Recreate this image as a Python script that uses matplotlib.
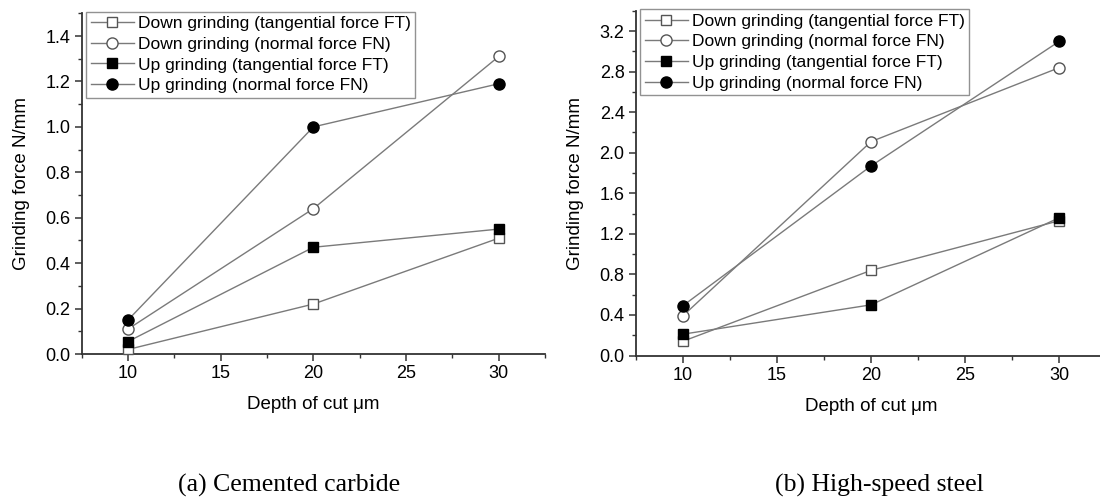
import matplotlib
matplotlib.use('Agg')
import matplotlib.pyplot as plt
from matplotlib.ticker import MultipleLocator

plt.rcParams['font.family'] = ['Liberation Sans', 'DejaVu Sans']

# 切削深度 (μm)
depth = [10, 20, 30]

# (a) Cemented carbide
carbide_down_ft = [0.02, 0.22, 0.51]
carbide_down_fn = [0.11, 0.64, 1.31]
carbide_up_ft = [0.055, 0.47, 0.55]
carbide_up_fn = [0.15, 1.00, 1.19]

# (b) High-speed steel
steel_down_ft = [0.14, 0.84, 1.33]
steel_down_fn = [0.39, 2.11, 2.84]
steel_up_ft = [0.21, 0.50, 1.36]
steel_up_fn = [0.49, 1.87, 3.10]

labels = ['Down grinding (tangential force FT)',
          'Down grinding (normal force FN)',
          'Up grinding (tangential force FT)',
          'Up grinding (normal force FN)']
captions = ['(a) Cemented carbide', '(b) High-speed steel']

line_color = '#7a7a7a'


def draw_panel(ax, series, ymax, ymajor):
    styles = [('s', 'white', 7), ('o', 'white', 8), ('s', 'black', 7), ('o', 'black', 8)]
    for vals, (mk, fc, ms), lab in zip(series, styles, labels):
        ax.plot(depth, vals, color=line_color, linewidth=1.0, marker=mk,
                markerfacecolor=fc, markeredgecolor='black' if fc == 'black' else '#555555',
                markeredgewidth=1.0, markersize=ms, label=lab, clip_on=False, zorder=3)
    ax.set_xlim(7.5, 32.5)
    ax.set_ylim(0, ymax)
    ax.xaxis.set_major_locator(MultipleLocator(5))
    ax.xaxis.set_minor_locator(MultipleLocator(2.5))
    ax.yaxis.set_major_locator(MultipleLocator(ymajor))
    ax.yaxis.set_minor_locator(MultipleLocator(ymajor / 2))
    ax.yaxis.set_major_formatter(matplotlib.ticker.FormatStrFormatter('%.1f'))
    for s in ['top', 'right']:
        ax.spines[s].set_visible(False)
    for s in ['left', 'bottom']:
        ax.spines[s].set_linewidth(1.3)
        ax.spines[s].set_color('#333333')
    ax.tick_params(which='major', direction='out', length=5, width=1.1,
                   labelsize=13, colors='#333333', labelcolor='black', pad=3)
    ax.tick_params(which='minor', direction='out', length=3, width=1.0, colors='#333333')
    ax.set_xlabel('Depth of cut μm', fontsize=13.5, labelpad=10)
    ax.set_ylabel('Grinding force N/mm', fontsize=13.5, labelpad=11)
    leg = ax.legend(loc='upper left', bbox_to_anchor=(0.01, 1.005), borderaxespad=0,
                    fontsize=12.5, frameon=True, fancybox=False, edgecolor='#777777',
                    handlelength=2.5, handletextpad=0.2, labelspacing=0.32,
                    borderpad=0.25)
    leg.get_frame().set_linewidth(1.0)


fig = plt.figure(figsize=(11, 5.01), dpi=100)
ax1 = fig.add_axes([0.0743, 0.2934, 0.4212, 0.680])
ax2 = fig.add_axes([0.5779, 0.2904, 0.428, 0.688])

draw_panel(ax1, [carbide_down_ft, carbide_down_fn, carbide_up_ft, carbide_up_fn], 1.5, 0.2)
draw_panel(ax2, [steel_down_ft, steel_down_fn, steel_up_ft, steel_up_fn], 3.4, 0.4)

fig.text(0.263, 0.032, captions[0], ha='center', va='center', fontsize=18.5,
         family='Liberation Serif')
fig.text(0.799, 0.032, captions[1], ha='center', va='center', fontsize=18.5,
         family='Liberation Serif')

plt.savefig('out.png', dpi=100)
